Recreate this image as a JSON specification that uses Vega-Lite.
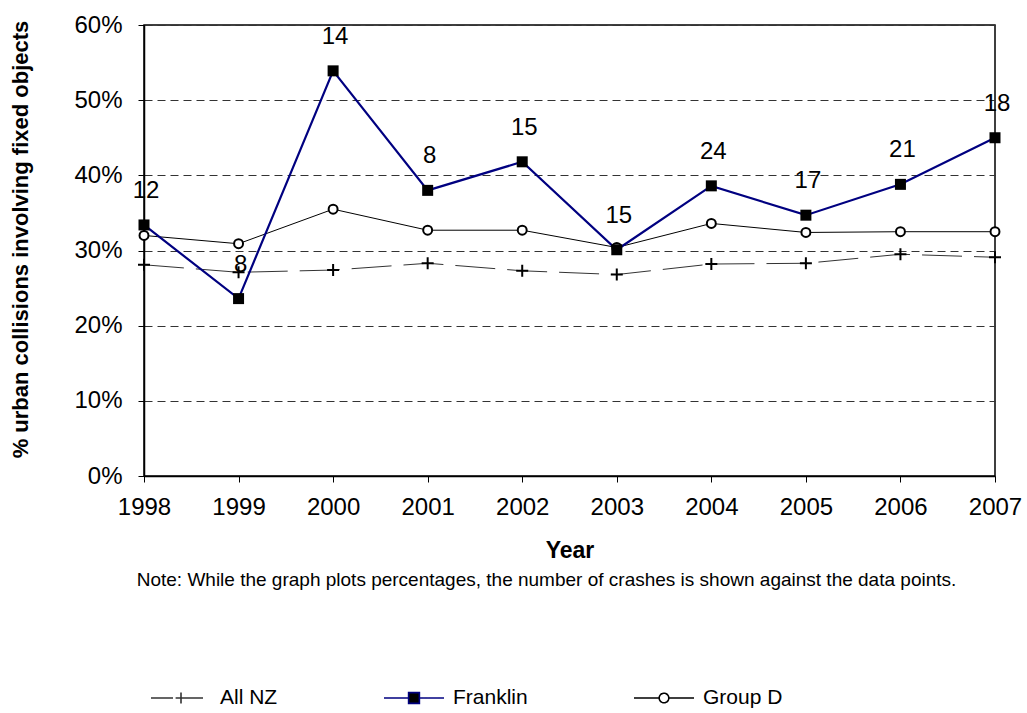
{
  "$schema": "https://vega.github.io/schema/vega-lite/v6.json",
  "width": 851,
  "height": 451,
  "autosize": {"type": "none"},
  "padding": {"left": 144, "top": 25, "right": 32, "bottom": 237},
  "background": "white",
  "title": {
    "text": "Note: While the graph plots percentages, the number of crashes is shown against the  data points.",
    "orient": "bottom",
    "anchor": "middle",
    "fontSize": 19,
    "fontWeight": "normal",
    "font": "Liberation Sans",
    "color": "black",
    "offset": 4,
    "dx": -23,
    "dy": -141
  },
  "config": {
    "font": "Liberation Sans",
    "view": {"stroke": "black", "strokeWidth": 1.5},
    "axis": {
      "labelFont": "Liberation Sans",
      "titleFont": "Liberation Sans",
      "labelColor": "black",
      "titleColor": "black",
      "domainColor": "black",
      "tickColor": "black",
      "domainWidth": 1.5,
      "tickWidth": 1,
      "labelFontSize": 24,
      "titleFontSize": 22,
      "titleFontWeight": "bold"
    },
    "legend": {
      "labelFont": "Liberation Sans",
      "labelColor": "black"
    }
  },
  "data": {
    "values": [
      {"year": "1998", "series": "All NZ", "pct": 0.281},
      {"year": "1999", "series": "All NZ", "pct": 0.271},
      {"year": "2000", "series": "All NZ", "pct": 0.274},
      {"year": "2001", "series": "All NZ", "pct": 0.283},
      {"year": "2002", "series": "All NZ", "pct": 0.273},
      {"year": "2003", "series": "All NZ", "pct": 0.268},
      {"year": "2004", "series": "All NZ", "pct": 0.282},
      {"year": "2005", "series": "All NZ", "pct": 0.283},
      {"year": "2006", "series": "All NZ", "pct": 0.295},
      {"year": "2007", "series": "All NZ", "pct": 0.291},
      {"year": "1998", "series": "Franklin", "pct": 0.334, "count": 12},
      {"year": "1999", "series": "Franklin", "pct": 0.236, "count": 8},
      {"year": "2000", "series": "Franklin", "pct": 0.539, "count": 14},
      {"year": "2001", "series": "Franklin", "pct": 0.380, "count": 8},
      {"year": "2002", "series": "Franklin", "pct": 0.418, "count": 15},
      {"year": "2003", "series": "Franklin", "pct": 0.301, "count": 15},
      {"year": "2004", "series": "Franklin", "pct": 0.386, "count": 24},
      {"year": "2005", "series": "Franklin", "pct": 0.347, "count": 17},
      {"year": "2006", "series": "Franklin", "pct": 0.388, "count": 21},
      {"year": "2007", "series": "Franklin", "pct": 0.450, "count": 18},
      {"year": "1998", "series": "Group D", "pct": 0.320},
      {"year": "1999", "series": "Group D", "pct": 0.309},
      {"year": "2000", "series": "Group D", "pct": 0.355},
      {"year": "2001", "series": "Group D", "pct": 0.327},
      {"year": "2002", "series": "Group D", "pct": 0.327},
      {"year": "2003", "series": "Group D", "pct": 0.304},
      {"year": "2004", "series": "Group D", "pct": 0.336},
      {"year": "2005", "series": "Group D", "pct": 0.324},
      {"year": "2006", "series": "Group D", "pct": 0.325},
      {"year": "2007", "series": "Group D", "pct": 0.325}
    ]
  },
  "encoding": {
    "x": {
      "field": "year",
      "type": "ordinal",
      "scale": {"type": "point", "padding": 0},
      "axis": {
        "title": "Year",
        "titleFontSize": 23,
        "labelAngle": 0,
        "tickSize": 6,
        "labelPadding": 13,
        "titlePadding": 20,
        "grid": false
      }
    },
    "y": {
      "field": "pct",
      "type": "quantitative",
      "scale": {"domain": [0, 0.6], "nice": false},
      "axis": {
        "title": "% urban collisions involving fixed objects",
        "format": ".0%",
        "values": [0, 0.1, 0.2, 0.3, 0.4, 0.5, 0.6],
        "tickSize": 6,
        "labelPadding": 16,
        "grid": true,
        "gridColor": "#333333",
        "gridDash": [8, 5],
        "gridWidth": 1,
        "titleX": -124,
        "titleY": 214,
        "titleBaseline": "middle"
      }
    }
  },
  "layer": [
    {
      "transform": [{"filter": "datum.series === 'All NZ'"}],
      "mark": {"type": "line", "color": "#333333", "strokeWidth": 1, "strokeDash": [40, 12]}
    },
    {
      "transform": [{"filter": "datum.series === 'Group D'"}],
      "mark": {"type": "line", "color": "black", "strokeWidth": 1}
    },
    {
      "transform": [{"filter": "datum.series === 'Franklin'"}],
      "mark": {"type": "line", "color": "#000080", "strokeWidth": 2.2}
    },
    {
      "transform": [{"filter": "datum.series === 'All NZ'"}],
      "mark": {"type": "point", "shape": "M-1,0H1M0,-1V1", "size": 144, "filled": false, "stroke": "black", "strokeWidth": 2, "opacity": 1}
    },
    {
      "transform": [{"filter": "datum.series === 'Group D'"}],
      "mark": {"type": "point", "shape": "circle", "size": 80, "filled": false, "fill": "white", "fillOpacity": 1, "stroke": "black", "strokeWidth": 2, "opacity": 1}
    },
    {
      "transform": [{"filter": "datum.series === 'Franklin'"}],
      "mark": {"type": "point", "shape": "square", "size": 121, "filled": true, "color": "black", "opacity": 1}
    },
    {
      "transform": [{"filter": "datum.series === 'Franklin'"}],
      "mark": {"type": "text", "fontSize": 24, "font": "Liberation Sans", "color": "black", "dy": -34, "dx": 2, "baseline": "middle", "align": "center"},
      "encoding": {"text": {"field": "count", "type": "quantitative"}}
    },
    {
      "transform": [{"filter": "datum.pct < 0"}],
      "mark": {"type": "point", "size": 3600, "strokeWidth": 1.5, "opacity": 1},
      "encoding": {
        "shape": {
          "field": "series",
          "type": "nominal",
          "scale": {
            "domain": ["All NZ", "Franklin", "Group D"],
            "range": [
              "M-1,0H1M-0.18,0H0.18M0,-0.18V0.18",
              "M-1,0H-0.18M0.18,0H1M-0.18,-0.18H0.18V0.18H-0.18Z",
              "M-1,0H-0.16M0.16,0H1M-0.16,0A0.16,0.16,0,1,1,0.16,0A0.16,0.16,0,1,1,-0.16,0Z"
            ]
          },
          "legend": {
            "title": null,
            "orient": "none",
            "direction": "horizontal",
            "legendX": 6,
            "legendY": 642,
            "symbolSize": 3600,
            "symbolStrokeWidth": 1.6,
            "symbolOpacity": 1,
            "labelFontSize": 21,
            "labelOffset": 8,
            "columnPadding": 102,
            "labelLimit": 300
          }
        },
        "stroke": {
          "field": "series",
          "type": "nominal",
          "scale": {"domain": ["All NZ", "Franklin", "Group D"], "range": ["#333333", "#000080", "black"]}
        },
        "fill": {
          "field": "series",
          "type": "nominal",
          "scale": {"domain": ["All NZ", "Franklin", "Group D"], "range": ["transparent", "black", "white"]}
        },
        "strokeDash": {
          "field": "series",
          "type": "nominal",
          "scale": {"domain": ["All NZ", "Franklin", "Group D"], "range": [[22, 8], [1, 0], [1, 0]]}
        }
      }
    }
  ]
}
